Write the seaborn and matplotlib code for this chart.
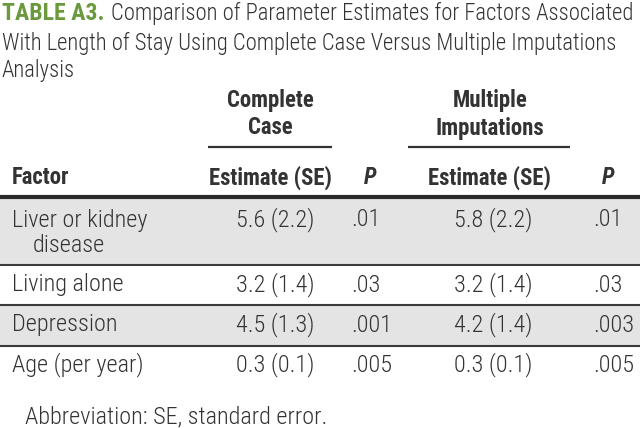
import matplotlib
matplotlib.use("Agg")
import matplotlib.pyplot as plt
import seaborn as sns
from matplotlib import font_manager
from matplotlib.font_manager import FontProperties
from matplotlib.textpath import TextPath

# Table content
factors = ["Liver or kidney\ndisease", "Living alone", "Depression", "Age (per year)"]
cc_estimate = ["5.6 (2.2)", "3.2 (1.4)", "4.5 (1.3)", "0.3 (0.1)"]
cc_p = [".01", ".03", ".001", ".005"]
mi_estimate = ["5.8 (2.2)", "3.2 (1.4)", "4.2 (1.4)", "0.3 (0.1)"]
mi_p = [".01", ".03", ".003", ".005"]
groups = ["Complete\nCase", "Multiple\nImputations"]
col_heads = ["Factor", "Estimate (SE)", "P", "Estimate (SE)", "P"]
title_tag = "TABLE A3."
title_lines = ["Comparison of Parameter Estimates for Factors Associated",
               "With Length of Stay Using Complete Case Versus Multiple Imputations",
               "Analysis"]
note = "Abbreviation: SE, standard error."

sns.set_theme(style="white")

names = {f.name for f in font_manager.fontManager.ttflist}
family = "DejaVu Sans"
for cand in ["Liberation Sans Narrow", "Roboto Condensed", "Open Sans Condensed",
             "DejaVu Sans Condensed", "Liberation Sans", "Roboto"]:
    if cand in names:
        family = cand
        break
plt.rcParams["font.family"] = [family, "DejaVu Sans"]

light = "light"


def fit(s, px, weight="normal"):
    fp = FontProperties(family=family, weight=weight)
    w = TextPath((0, 0), s, size=10, prop=fp).get_extents().width
    return 10 * px / (w * 100 / 72)


body = fit("Living alone", 109, light)
bold = fit("Estimate (SE)", 121, "bold")
ttl = min(fit(title_lines[0], 520, light), fit(title_lines[1], 634, light))
tag = fit(title_tag, 100, "bold")

ink = "#333333"
green = "#6b9a3e"

fig = plt.figure(figsize=(6.4, 4.29), dpi=100)
ax = fig.add_axes([0, 0, 1, 1])
ax.set_xlim(0, 640)
ax.set_ylim(429, 0)
ax.axis("off")

# title
ax.text(2, 13, title_tag, color=green, fontsize=tag, weight="bold", va="center", ha="left")
ax.text(111, 13, title_lines[0], color=ink, fontsize=ttl, weight=light, va="center", ha="left")
ax.text(2, 43, title_lines[1], color=ink, fontsize=ttl, weight=light, va="center", ha="left")
ax.text(2, 71, title_lines[2], color=ink, fontsize=ttl, weight=light, va="center", ha="left")

# group headers
for g, cx, x0, x1 in zip(groups, [270, 490], [208, 408], [332, 570]):
    top, bot = g.split("\n")
    ax.text(cx, 100, top, ha="center", va="center", fontsize=bold, weight="bold", color=ink)
    ax.text(cx, 128, bot, ha="center", va="center", fontsize=bold, weight="bold", color=ink)
    ax.plot([x0, x1], [147, 147], color=ink, lw=1.6, solid_capstyle="butt")

# column headers
ax.text(12, 178, col_heads[0], ha="left", va="center", fontsize=bold, weight="bold", color=ink)
for h, cx in zip(col_heads[1:], [270, 370, 489, 608]):
    ax.text(cx, 178, h, ha="center", va="center", fontsize=bold, weight="bold",
            style="italic" if h == "P" else "normal", color=ink)
ax.plot([0, 640], [197, 197], color="#2b2b2b", lw=3.0, solid_capstyle="butt")

# body rows
bands = [(199, 264), (266, 304), (306, 345), (347, 386)]
text_y = [220, 285, 325, 365]
for i, (y0, y1) in enumerate(bands):
    if i % 2 == 0:
        ax.fill_between([0, 640], y0, y1, color="#e4e4e4", lw=0)
    if i < len(bands) - 1:
        ax.plot([0, 640], [y1 + 1, y1 + 1], color="#3a3a3a", lw=1.5, solid_capstyle="butt")
    ty = text_y[i]
    lines = factors[i].split("\n")
    ax.text(12, ty, lines[0], ha="left", va="center", fontsize=body, weight=light, color=ink)
    if len(lines) > 1:
        ax.text(33, ty + 26, lines[1], ha="left", va="center", fontsize=body, weight=light, color=ink)
    ax.text(236, ty, cc_estimate[i], ha="left", va="center", fontsize=body, weight=light, color=ink)
    ax.text(351, ty, cc_p[i], ha="left", va="center", fontsize=body, weight=light, color=ink)
    ax.text(454, ty, mi_estimate[i], ha="left", va="center", fontsize=body, weight=light, color=ink)
    ax.text(593, ty, mi_p[i], ha="left", va="center", fontsize=body, weight=light, color=ink)

ax.text(25, 417, note, ha="left", va="center", fontsize=body, weight=light, color=ink)

fig.savefig("out.png", dpi=100)
